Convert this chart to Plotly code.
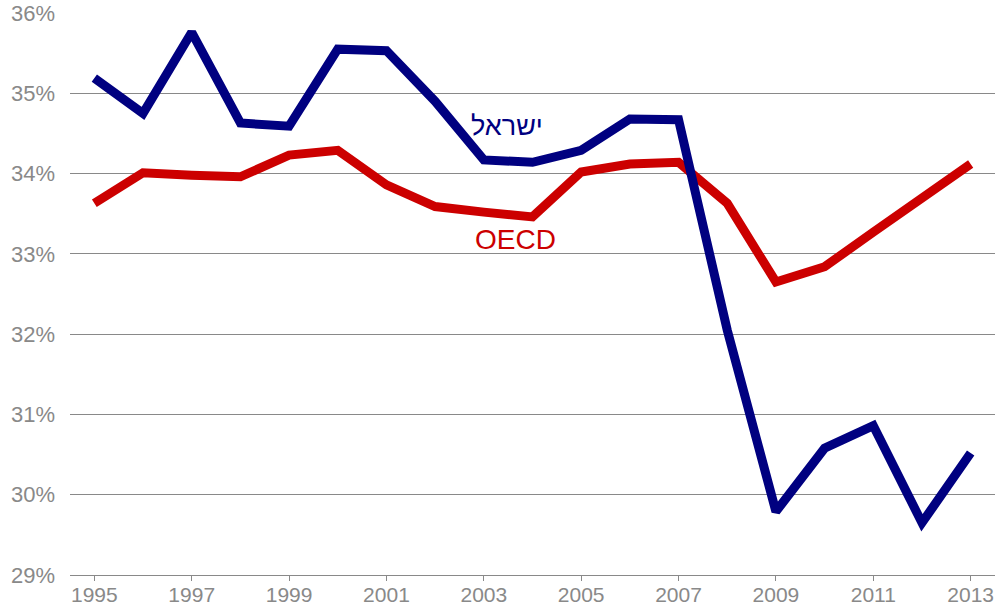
import plotly.graph_objects as go

years = list(range(1995, 2014))

israel = [35.19, 34.75, 35.76, 34.63, 34.59, 35.55, 35.53, 34.90, 34.17, 34.14,
          34.29, 34.68, 34.67, 32.05, 29.79, 30.58, 30.86, 29.65, 30.52]

oecd = [33.63, 34.01, 33.98, 33.96, 34.23, 34.29, 33.86, 33.59, 33.52, 33.46,
        34.02, 34.12, 34.14, 33.63, 32.65, 32.84, 33.27, 33.71, 34.12]

y_ticks = [29, 30, 31, 32, 33, 34, 35, 36]
y_tick_text = [f"{v}%" for v in y_ticks]
x_ticks = list(range(1995, 2014, 2))

NAVY = "#000080"
RED = "#CC0000"
GRAY = "#898989"

fig = go.Figure()
fig.add_trace(go.Scatter(x=years, y=oecd, mode="lines", name="OECD",
                         line=dict(color=RED, width=9)))
fig.add_trace(go.Scatter(x=years, y=israel, mode="lines", name="ישראל",
                         line=dict(color=NAVY, width=9)))

fig.add_annotation(x=2003.47, y=34.59, text="ישראל", showarrow=False,
                   font=dict(family="Liberation Sans, Arial", size=27, color=NAVY))
fig.add_annotation(x=2003.65, y=33.18, text="OECD", showarrow=False,
                   font=dict(family="Liberation Sans, Arial", size=28, color=RED))

fig.update_layout(
    width=1000, height=607,
    margin=dict(l=70, r=5, t=13, b=32),
    paper_bgcolor="white", plot_bgcolor="white",
    showlegend=False,
    font=dict(family="Liberation Sans, Arial", size=21, color=GRAY),
    xaxis=dict(range=[1994.5, 2013.5], tickvals=x_ticks, ticks="outside",
               ticklen=5, tickcolor=GRAY, showgrid=False, zeroline=False,
               showline=True, linecolor=GRAY, linewidth=1, automargin=False,
               ticklabelstandoff=-4,
               tickfont=dict(size=21, color=GRAY)),
    yaxis=dict(range=[29, 36], tickvals=y_ticks, ticktext=y_tick_text,
               showgrid=True, gridcolor=GRAY, gridwidth=1, zeroline=False,
               showline=False, ticks="", ticklabelstandoff=14, automargin=False,
               tickfont=dict(size=22, color=GRAY)),
)

fig.write_html("out.html")
